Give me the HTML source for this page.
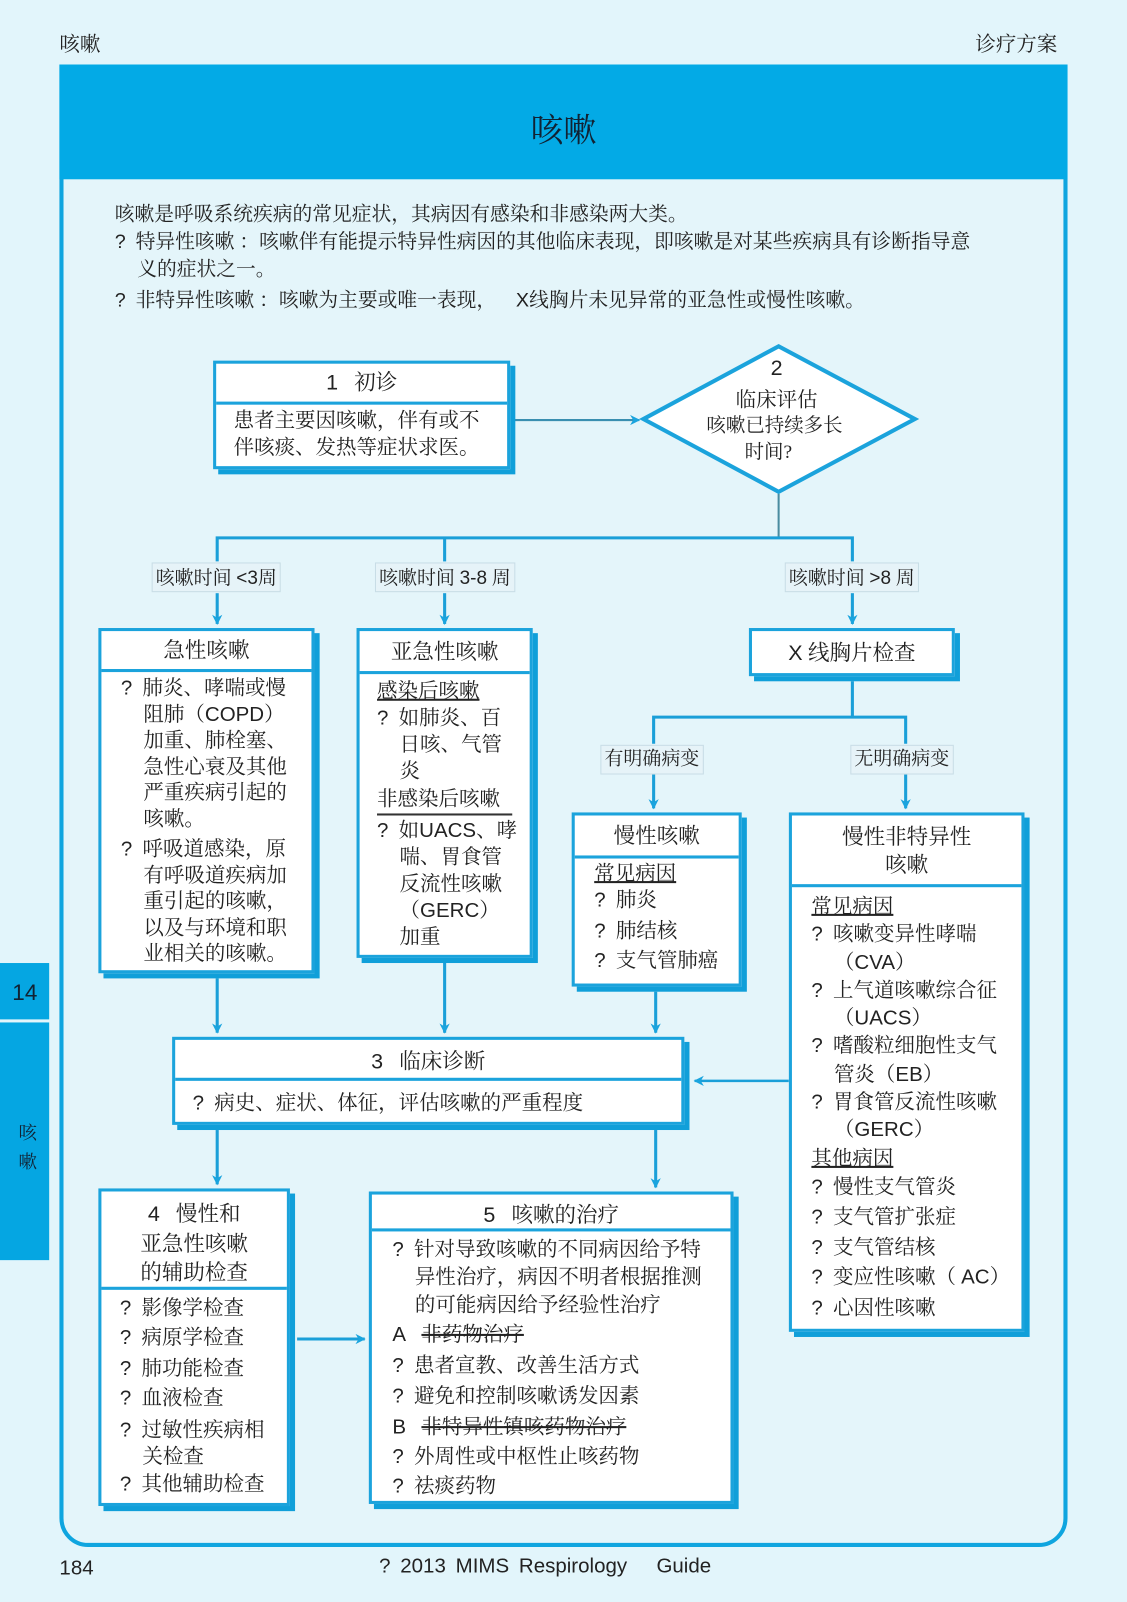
<!DOCTYPE html>
<html><head><meta charset="utf-8">
<style>
*{margin:0;padding:0;box-sizing:border-box}
html,body{width:1127px;height:1602px;overflow:hidden;background:#e2f5fb}
#w{position:absolute;left:0;top:0;width:1100px;height:1564px;transform:scale(1.0245);transform-origin:0 0;font-family:"Liberation Serif","Noto Serif CJK SC",serif;color:#222}
.a{position:absolute}
.box{position:absolute;background:#fff;border:3px solid #1ba3dc;box-shadow:5px 5px 0 #109fd9}
.hd{position:absolute;left:0;right:0;top:0;border-bottom:3px solid #1ba3dc;text-align:center;font-size:21px}
.bd{position:absolute;left:0;right:0;font-size:20px;line-height:26px}
.it{padding-left:22px;text-indent:-22px}
.q{font-family:"Liberation Sans",sans-serif}
.u{text-decoration:underline}
.lbl{position:absolute;background:#e6f3f8;border:1px solid #c8dde6;font-size:18.5px;height:29px;line-height:27px;padding:0 3px;white-space:nowrap}
.s{font-family:"Liberation Sans",sans-serif}
</style></head><body>
<div id="w">
<div class="a" style="left:58px;top:27px;font-size:20px">咳嗽</div>
<div class="a" style="left:952px;top:27px;font-size:20px">诊疗方案</div>
<div class="a" style="left:58px;top:63px;width:984px;height:1447px;border:4px solid #0fa5df;border-radius:0 0 28px 28px;background:#e4f5fa"></div>
<div class="a" style="left:58px;top:63px;width:984px;height:112px;background:#03aae6"></div>
<div class="a" style="left:58px;top:102px;width:984px;text-align:center;font-size:32px;color:#123">咳嗽</div>
<div class="a" style="left:0;top:940px;width:48px;height:55px;background:#05a6e2"></div>
<div class="a s" style="left:12px;top:956px;font-size:22px;color:#123">14</div>
<div class="a" style="left:0;top:998px;width:48px;height:232px;background:#05a6e2"></div>
<div class="a" style="left:18px;top:1092px;font-size:18px;line-height:28px;width:20px;color:#123">咳嗽</div>
<div class="a" style="left:112px;top:196px;font-size:19.3px;line-height:27px;width:845px">
<div>咳嗽是呼吸系统疾病的常见症状，其病因有感染和非感染两大类。</div>
<div style="padding-left:22px;text-indent:-22px"><span class="q">?</span>&nbsp; 特异性咳嗽 ：咳嗽伴有能提示特异性病因的其他临床表现，即咳嗽是对某些疾病具有诊断指导意义的症状之一。</div>
<div style="margin-top:3px"><span class="q">?</span>&nbsp; 非特异性咳嗽 ：咳嗽为主要或唯一表现，&nbsp;&nbsp;&nbsp; <span class="s">X</span>线胸片未见异常的亚急性或慢性咳嗽。</div>
</div>
<svg class="a" style="left:0;top:0" width="1100" height="1564">
<defs><marker id="ar" markerWidth="10" markerHeight="10" refX="9" refY="5" orient="auto" markerUnits="userSpaceOnUse"><path d="M0,0 L10,5 L0,10 L3,5z" fill="#1aa4de"/></marker></defs>
<g stroke="#1a9fd8" stroke-width="3" fill="none">
<polygon points="760,338 893,409 760,480 628,409" fill="#fff" stroke="#1ba3dc" stroke-width="4"/>
<line x1="500" y1="410" x2="624" y2="410" stroke="#3a8fb0" stroke-width="2" marker-end="url(#ar)"/>
<line x1="760" y1="482" x2="760" y2="525" stroke="#4a8ca0" stroke-width="2"/>
<polyline points="212,548 212,525 832,525 832,548"/>
<line x1="434" y1="525" x2="434" y2="548"/>
<line x1="212" y1="579" x2="212" y2="609" marker-end="url(#ar)"/>
<line x1="434" y1="579" x2="434" y2="609" marker-end="url(#ar)"/>
<line x1="832" y1="579" x2="832" y2="609" marker-end="url(#ar)"/>
<polyline points="638,726 638,700 884,700 884,726"/>
<line x1="832" y1="665" x2="832" y2="700"/>
<line x1="638" y1="756" x2="638" y2="789" marker-end="url(#ar)"/>
<line x1="884" y1="756" x2="884" y2="789" marker-end="url(#ar)"/>
<line x1="212" y1="955" x2="212" y2="1008" marker-end="url(#ar)"/>
<line x1="434" y1="940" x2="434" y2="1008" marker-end="url(#ar)"/>
<line x1="640" y1="968" x2="640" y2="1008" marker-end="url(#ar)"/>
<line x1="770" y1="1055" x2="678" y2="1055" stroke-width="2.5" marker-end="url(#ar)"/>
<line x1="212" y1="1103" x2="212" y2="1156" marker-end="url(#ar)"/>
<line x1="640" y1="1103" x2="640" y2="1159" marker-end="url(#ar)"/>
<line x1="290" y1="1307" x2="356" y2="1307" marker-end="url(#ar)"/>
</g>
<text x="758" y="366" font-family="Liberation Sans" font-size="21" text-anchor="middle" fill="#222">2</text>
<text x="758" y="397" font-family="Liberation Serif,Noto Serif CJK SC" font-size="20" text-anchor="middle" fill="#222">临床评估</text>
<text x="756" y="421" font-family="Liberation Serif,Noto Serif CJK SC" font-size="19" text-anchor="middle" fill="#222">咳嗽已持续多长</text>
<text x="750" y="447" font-family="Liberation Serif,Noto Serif CJK SC" font-size="19" text-anchor="middle" fill="#222">时间?</text>
</svg>
<div class="box" style="left:208px;top:352px;width:290px;height:106px">
<div class="hd" style="height:40px;line-height:36px"><span class="s">1</span>&nbsp;&nbsp; 初诊</div>
<div class="bd" style="top:43px;padding-left:17px;padding-right:18px">患者主要因咳嗽，伴有或不伴咳痰、发热等症状求医。</div>
</div>
<div class="lbl" style="left:148px;top:549px">咳嗽时间 <span class="s">&lt;3</span>周</div>
<div class="lbl" style="left:366px;top:549px">咳嗽时间 <span class="s">3-8</span> 周</div>
<div class="lbl" style="left:766px;top:549px">咳嗽时间 <span class="s">&gt;8</span> 周</div>
<div class="box" style="left:96px;top:613px;width:211px;height:337px">
<div class="hd" style="height:40px;line-height:38px">急性咳嗽</div>
<div class="bd" style="top:44px;padding-left:19px;padding-right:16px;line-height:25.5px">
<div class="it"><span class="q">?</span>&nbsp; 肺炎、哮喘或慢阻肺（<span class="s">COPD</span>）加重、肺栓塞、急性心衰及其他严重疾病引起的咳嗽。</div>
<div class="it" style="margin-top:4px"><span class="q">?</span>&nbsp; 呼吸道感染，原有呼吸道疾病加重引起的咳嗽，以及与环境和职业相关的咳嗽。</div>
</div></div>
<div class="box" style="left:348px;top:613px;width:172px;height:322px">
<div class="hd" style="height:42px;line-height:40px">亚急性咳嗽</div>
<div class="bd" style="top:46px;padding-left:17px;padding-right:12px">
<div class="u">感染后咳嗽</div>
<div class="it"><span class="q">?</span>&nbsp; 如肺炎、百日咳、气管炎</div>
<div style="border-bottom:2px solid #333;width:132px;line-height:28px">非感染后咳嗽</div>
<div class="it" style="margin-top:2px"><span class="q">?</span>&nbsp; 如<span class="s">UACS</span>、哮喘、胃食管反流性咳嗽（<span class="s">GERC</span>）加重</div>
</div></div>
<div class="box" style="left:731px;top:613px;width:201px;height:47px">
<div style="text-align:center;font-size:21px;line-height:42px"><span class="s">X</span> 线胸片检查</div></div>
<div class="lbl" style="left:586px;top:727px">有明确病变</div>
<div class="lbl" style="left:830px;top:727px">无明确病变</div>
<div class="box" style="left:558px;top:793px;width:166px;height:170px">
<div class="hd" style="height:42px;line-height:40px">慢性咳嗽</div>
<div class="bd" style="top:45px;padding-left:19px;line-height:29.5px">
<div class="u" style="line-height:24px">常见病因</div>
<div><span class="q">?</span>&nbsp; 肺炎</div><div><span class="q">?</span>&nbsp; 肺结核</div><div><span class="q">?</span>&nbsp; 支气管肺癌</div>
</div></div>
<div class="box" style="left:770px;top:793px;width:230px;height:507px">
<div class="hd" style="height:70px;line-height:27px;padding-top:8px">慢性非特异性<br>咳嗽</div>
<div class="bd" style="top:76px;padding-left:19px;padding-right:6px;line-height:27.3px">
<div class="u">常见病因</div>
<div class="it"><span class="q">?</span>&nbsp; 咳嗽变异性哮喘（<span class="s">CVA</span>）</div>
<div class="it"><span class="q">?</span>&nbsp; 上气道咳嗽综合征（<span class="s">UACS</span>）</div>
<div class="it"><span class="q">?</span>&nbsp; 嗜酸粒细胞性支气管炎（<span class="s">EB</span>）</div>
<div class="it"><span class="q">?</span>&nbsp; 胃食管反流性咳嗽（<span class="s">GERC</span>）</div>
<div class="u">其他病因</div>
<div style="line-height:29.5px"><span class="q">?</span>&nbsp; 慢性支气管炎</div>
<div style="line-height:29.5px"><span class="q">?</span>&nbsp; 支气管扩张症</div>
<div style="line-height:29.5px"><span class="q">?</span>&nbsp; 支气管结核</div>
<div style="line-height:29.5px"><span class="q">?</span>&nbsp; 变应性咳嗽（ <span class="s">AC</span>）</div>
<div style="line-height:29.5px"><span class="q">?</span>&nbsp; 心因性咳嗽</div>
</div></div>
<div class="box" style="left:168px;top:1012px;width:500px;height:86px">
<div class="hd" style="height:40px;line-height:42px"><span class="s">3</span>&nbsp;&nbsp; 临床诊断</div>
<div class="bd" style="top:49px;padding-left:17px"><span class="q">?</span>&nbsp; 病史、症状、体征，评估咳嗽的严重程度</div>
</div>
<div class="box" style="left:96px;top:1160px;width:187px;height:310px">
<div class="hd" style="height:96px;line-height:28px;padding-top:8px"><span class="s">4</span>&nbsp;&nbsp; 慢性和<br>亚急性咳嗽<br>的辅助检查</div>
<div class="bd" style="top:100px;padding-left:18px;padding-right:8px;line-height:29.3px">
<div><span class="q">?</span>&nbsp; 影像学检查</div><div><span class="q">?</span>&nbsp; 病原学检查</div><div><span class="q">?</span>&nbsp; 肺功能检查</div><div><span class="q">?</span>&nbsp; 血液检查</div>
<div class="it" style="line-height:26px;padding-top:3px"><span class="q">?</span>&nbsp; 过敏性疾病相关检查</div>
<div><span class="q">?</span>&nbsp; 其他辅助检查</div>
</div></div>
<div class="box" style="left:360px;top:1163px;width:356px;height:305px">
<div class="hd" style="height:36px;line-height:40px"><span class="s">5</span>&nbsp;&nbsp; 咳嗽的治疗</div>
<div class="bd" style="top:41px;padding-left:20px;padding-right:12px;line-height:27px">
<div class="it"><span class="q">?</span>&nbsp; 针对导致咳嗽的不同病因给予特异性治疗，病因不明者根据推测的可能病因给予经验性治疗</div>
<div style="line-height:30px"><span class="s">A</span>&nbsp;&nbsp; <span style="text-decoration:line-through">非药物治疗</span></div>
<div style="line-height:30px"><span class="q">?</span>&nbsp; 患者宣教、改善生活方式</div>
<div style="line-height:30px"><span class="q">?</span>&nbsp; 避免和控制咳嗽诱发因素</div>
<div style="line-height:30px"><span class="s">B</span>&nbsp;&nbsp; <span style="text-decoration:line-through">非特异性镇咳药物治疗</span></div>
<div style="line-height:29px"><span class="q">?</span>&nbsp; 外周性或中枢性止咳药物</div>
<div style="line-height:29px"><span class="q">?</span>&nbsp; 祛痰药物</div>
</div></div>
<div class="a s" style="left:58px;top:1520px;font-size:20px">184</div>
<div class="a s" style="left:370px;top:1518px;font-size:20px;word-spacing:4px">? 2013 MIMS Respirology &nbsp; Guide</div>
</div>
</body></html>
